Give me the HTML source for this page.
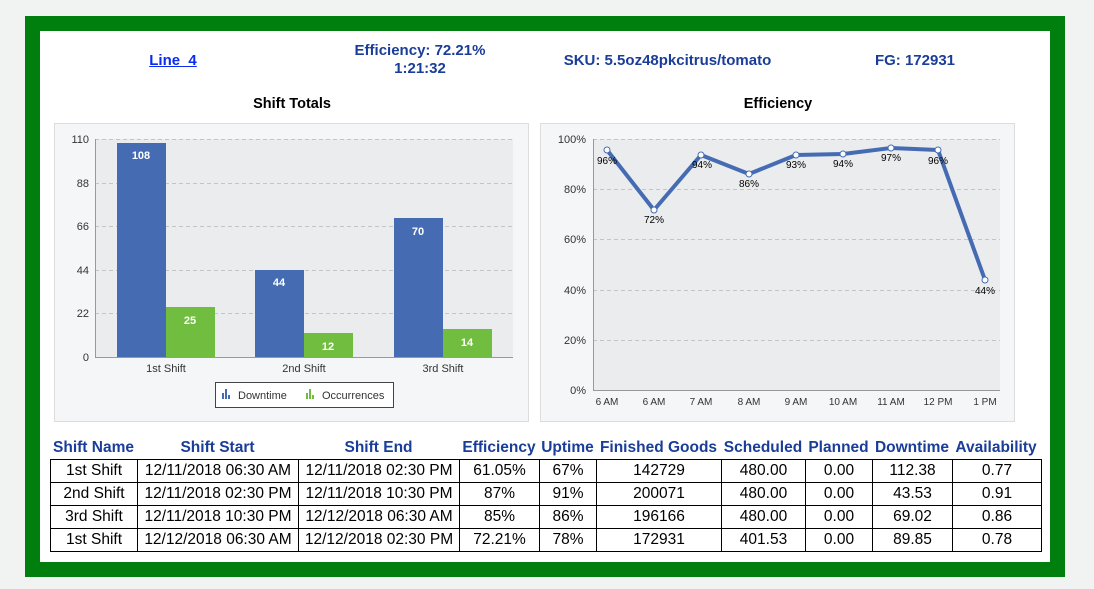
<!DOCTYPE html>
<html><head><meta charset="utf-8"><style>
body{margin:0;width:1094px;height:589px;background:#f1f2f2;position:relative;overflow:hidden;font-family:"Liberation Sans",Arial,sans-serif}
.frame{position:absolute;left:25px;top:16px;width:1040px;height:561px;background:#007f0e}
.inner{position:absolute;left:40px;top:31px;width:1010px;height:531px;background:#fff}
.t{position:absolute;font-weight:bold;font-size:15px;color:#1a3d99;text-align:center;white-space:nowrap}
table{position:absolute;left:50px;top:459px;border-collapse:collapse;font-size:15.5px;table-layout:fixed}
tr{height:23px}
td{border:1.5px solid #000;padding:0;text-align:center;white-space:nowrap;line-height:20px}
.h{position:absolute;top:439px;font-weight:bold;font-size:15.5px;color:#1a3d99;text-align:center;white-space:nowrap}
</style></head><body>
<div class="frame"></div><div class="inner"></div>
<div class="t" style="left:128px;top:52px;width:90px;color:#0a2cf0;text-decoration:underline">Line&nbsp; 4</div>
<div class="t" style="left:320px;top:42px;width:200px;line-height:18px">Efficiency: 72.21%<br>1:21:32</div>
<div class="t" style="left:540px;top:52px;width:255px">SKU: 5.5oz48pkcitrus/tomato</div>
<div class="t" style="left:840px;top:52px;width:150px">FG: 172931</div>
<div class="t" style="left:192px;top:96px;width:200px;color:#000;font-size:14.5px">Shift Totals</div>
<div class="t" style="left:678px;top:96px;width:200px;color:#000;font-size:14.5px">Efficiency</div>
<svg width="1094" height="589" style="position:absolute;left:0;top:0" font-family="Liberation Sans, Arial, sans-serif">
<rect x="54.5" y="123.5" width="474" height="298" fill="#f5f6f7" stroke="#ddd"/>
<rect x="95" y="139" width="418" height="218" fill="#ebecee"/>
<g stroke="#c4c4c4" stroke-dasharray="4,3">
<line x1="95" x2="513" y1="139.5" y2="139.5"/><line x1="95" x2="513" y1="183.5" y2="183.5"/><line x1="95" x2="513" y1="226.5" y2="226.5"/><line x1="95" x2="513" y1="270.5" y2="270.5"/><line x1="95" x2="513" y1="313.5" y2="313.5"/></g>
<line x1="95.5" x2="95.5" y1="139" y2="357" stroke="#999"/><line x1="95" x2="513" y1="357.5" y2="357.5" stroke="#999"/>
<g font-size="11" fill="#333" text-anchor="end"><text x="89" y="143">110</text><text x="89" y="187">88</text><text x="89" y="230">66</text><text x="89" y="274">44</text><text x="89" y="317">22</text><text x="89" y="361">0</text></g>
<g fill="#456cb3"><rect x="117" y="143" width="49" height="214"/><rect x="255" y="270" width="49" height="87"/><rect x="394" y="218" width="49" height="139"/></g>
<g fill="#71bd40"><rect x="166" y="307" width="49" height="50"/><rect x="304" y="333" width="49" height="24"/><rect x="443" y="329" width="49" height="28"/></g>
<g font-size="11" font-weight="bold" fill="#fff" text-anchor="middle"><text x="141" y="159">108</text><text x="190" y="324">25</text><text x="279" y="286">44</text><text x="328" y="350">12</text><text x="418" y="235">70</text><text x="467" y="346">14</text></g>
<g font-size="11" fill="#333" text-anchor="middle"><text x="166" y="372">1st Shift</text><text x="304" y="372">2nd Shift</text><text x="443" y="372">3rd Shift</text></g>
<rect x="215.5" y="382.5" width="178" height="25" fill="#fff" stroke="#444"/>
<g fill="#456cb3"><rect x="222" y="393" width="2" height="6"/><rect x="225" y="389" width="2" height="10"/><rect x="228" y="395" width="2" height="4"/></g>
<g fill="#71bd40"><rect x="306" y="393" width="2" height="6"/><rect x="309" y="389" width="2" height="10"/><rect x="312" y="395" width="2" height="4"/></g>
<g font-size="11" fill="#333"><text x="238" y="399">Downtime</text><text x="322" y="399">Occurrences</text></g>

<rect x="540.5" y="123.5" width="474" height="298" fill="#f5f6f7" stroke="#ddd"/>
<rect x="593" y="139" width="407" height="251" fill="#ebecee"/>
<g stroke="#c4c4c4" stroke-dasharray="4,3">
<line x1="593" x2="1000" y1="139.5" y2="139.5"/><line x1="593" x2="1000" y1="189.5" y2="189.5"/><line x1="593" x2="1000" y1="239.5" y2="239.5"/><line x1="593" x2="1000" y1="290.5" y2="290.5"/><line x1="593" x2="1000" y1="340.5" y2="340.5"/></g>
<line x1="593.5" x2="593.5" y1="139" y2="390" stroke="#999"/><line x1="593" x2="1000" y1="390.5" y2="390.5" stroke="#999"/>
<g font-size="11" fill="#333" text-anchor="end"><text x="586" y="143">100%</text><text x="586" y="193">80%</text><text x="586" y="243">60%</text><text x="586" y="294">40%</text><text x="586" y="344">20%</text><text x="586" y="394">0%</text></g>
<g font-size="10" fill="#333" text-anchor="middle"><text x="607" y="405">6 AM</text><text x="654" y="405">6 AM</text><text x="701" y="405">7 AM</text><text x="749" y="405">8 AM</text><text x="796" y="405">9 AM</text><text x="843" y="405">10 AM</text><text x="891" y="405">11 AM</text><text x="938" y="405">12 PM</text><text x="985" y="405">1 PM</text></g>
<polyline fill="none" stroke="#456cb3" stroke-width="4" stroke-linejoin="round" points="607,150 654,210 701,155 749,174 796,155 843,154 891,148 938,150 985,280"/>
<g fill="#fff" stroke="#456cb3" stroke-width="1"><circle cx="607" cy="150" r="3"/><circle cx="654" cy="210" r="3"/><circle cx="701" cy="155" r="3"/><circle cx="749" cy="174" r="3"/><circle cx="796" cy="155" r="3"/><circle cx="843" cy="154" r="3"/><circle cx="891" cy="148" r="3"/><circle cx="938" cy="150" r="3"/><circle cx="985" cy="280" r="3"/></g>
<g font-size="10" fill="#000" text-anchor="middle"><text x="607" y="164">96%</text><text x="654" y="223">72%</text><text x="702" y="168">94%</text><text x="749" y="187">86%</text><text x="796" y="168">93%</text><text x="843" y="167">94%</text><text x="891" y="161">97%</text><text x="938" y="164">96%</text><text x="985" y="294">44%</text></g>
</svg>
<div class="h" style="left:50px;width:87px">Shift Name</div>
<div class="h" style="left:137px;width:161px">Shift Start</div>
<div class="h" style="left:298px;width:161px">Shift End</div>
<div class="h" style="left:459px;width:80px">Efficiency</div>
<div class="h" style="left:539px;width:57px">Uptime</div>
<div class="h" style="left:596px;width:125px">Finished Goods</div>
<div class="h" style="left:721px;width:84px">Scheduled</div>
<div class="h" style="left:805px;width:67px">Planned</div>
<div class="h" style="left:872px;width:80px">Downtime</div>
<div class="h" style="left:952px;width:88px">Availability</div>
<table>
<colgroup><col style="width:87px"><col style="width:161px"><col style="width:161px"><col style="width:80px"><col style="width:57px"><col style="width:125px"><col style="width:84px"><col style="width:67px"><col style="width:80px"><col style="width:89px"></colgroup>
<tr><td>1st Shift</td><td>12/11/2018 06:30 AM</td><td>12/11/2018 02:30 PM</td><td>61.05%</td><td>67%</td><td>142729</td><td>480.00</td><td>0.00</td><td>112.38</td><td>0.77</td></tr>
<tr><td>2nd Shift</td><td>12/11/2018 02:30 PM</td><td>12/11/2018 10:30 PM</td><td>87%</td><td>91%</td><td>200071</td><td>480.00</td><td>0.00</td><td>43.53</td><td>0.91</td></tr>
<tr><td>3rd Shift</td><td>12/11/2018 10:30 PM</td><td>12/12/2018 06:30 AM</td><td>85%</td><td>86%</td><td>196166</td><td>480.00</td><td>0.00</td><td>69.02</td><td>0.86</td></tr>
<tr><td>1st Shift</td><td>12/12/2018 06:30 AM</td><td>12/12/2018 02:30 PM</td><td>72.21%</td><td>78%</td><td>172931</td><td>401.53</td><td>0.00</td><td>89.85</td><td>0.78</td></tr>
</table>
</body></html>
